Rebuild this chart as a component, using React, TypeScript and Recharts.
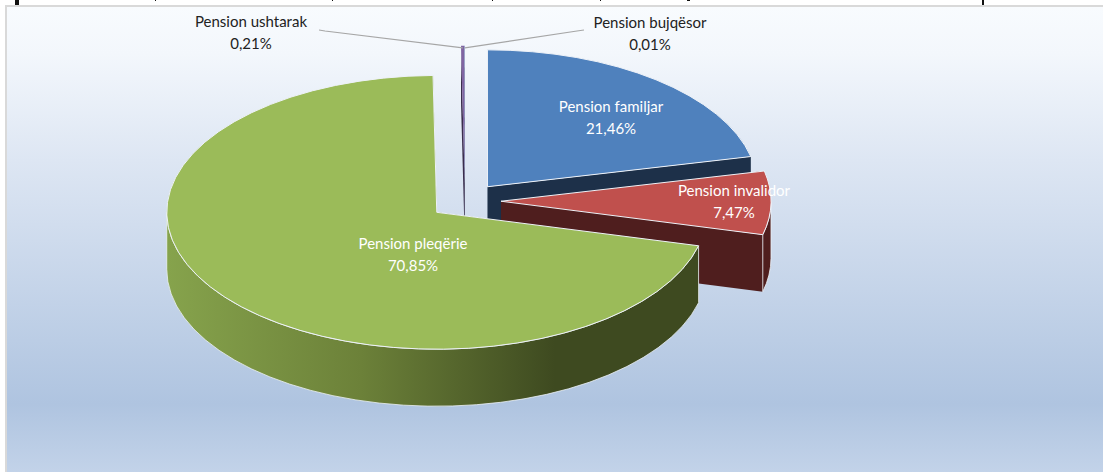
import React from 'react';
import { PieChart, Pie } from 'recharts';

// Drawn back to front, so the two tiny slices come first and the green one last
const categories = ['Pension ushtarak', 'Pension bujqësor', 'Pension familjar', 'Pension invalidor', 'Pension pleqërie'];
const shares = [0.21, 0.01, 21.46, 7.47, 70.85];
const topColors = ['#8064a2', '#4bacc6', '#4f81bd', '#c0504d', '#9bbb59'];
const wallColors = ['#3a2d4c', '#225260', '#1d3049', '#4f1e1e', 'url(#greenWall)'];
const labelColors = ['#222222', '#222222', '#ffffff', '#ffffff', '#ffffff'];

const data = categories.map((name, i) => ({ name, value: shares[i] }));

const WIDTH = 1103;
const HEIGHT = 472;
const CENTER_X = 465;
const CENTER_Y = 201;
const RADIUS = 270;
const SQUASH = 0.507; // tilt of the pie
const DEPTH = 57;
const EXPLODE = 36;
const START_ANGLE = 90 + (shares[0] + shares[1]) * 3.6;

// label centres, layout only
const labelCentres: Record<string, [number, number]> = {
  'Pension ushtarak': [251, 32],
  'Pension bujqësor': [650, 33],
  'Pension familjar': [611, 117],
  'Pension invalidor': [734, 201],
  'Pension pleqërie': [413, 254],
};
const leaderEnds: Record<string, [number, number][]> = {
  'Pension ushtarak': [[319, 30], [325, 31]],
  'Pension bujqësor': [[584, 30], [577, 31]],
};

const rad = (deg: number) => (deg * Math.PI) / 180;

const origin = (p: any) => ({
  x: p.cx + EXPLODE * Math.cos(rad(p.midAngle)),
  y: p.cy - EXPLODE * Math.sin(rad(p.midAngle)) * SQUASH,
});

const rimPoint = (o: { x: number; y: number }, r: number, deg: number, dy = 0) => ({
  x: o.x + r * Math.cos(rad(deg)),
  y: o.y - r * Math.sin(rad(deg)) * SQUASH + dy,
});

const face = (a: { x: number; y: number }, b: { x: number; y: number }) =>
  `M${a.x},${a.y}L${b.x},${b.y}L${b.x},${b.y + DEPTH}L${a.x},${a.y + DEPTH}Z`;

// one slice: side walls first, then the tilted top
const ExplodedSlice = (props: any) => {
  const { startAngle, endAngle, outerRadius: r, fill, name } = props;
  const o = origin(props);
  const p0 = rimPoint(o, r, startAngle);
  const p1 = rimPoint(o, r, endAngle);
  const ry = r * SQUASH;
  const large = startAngle - endAngle > 180 ? 1 : 0;
  const top = `M${o.x},${o.y}L${p0.x},${p0.y}A${r},${ry} 0 ${large} 1 ${p1.x},${p1.y}Z`;
  const wall = wallColors[categories.indexOf(name)];
  const solidWall = wall.startsWith('url') ? '#3e4a20' : wall;

  // the rim only shows on the front half of the ellipse
  const from = Math.min(startAngle, 0);
  const to = Math.max(endAngle, -180);
  let rim = '';
  if (from > to) {
    const a = rimPoint(o, r, from);
    const b = rimPoint(o, r, to);
    rim = `M${a.x},${a.y}A${r},${ry} 0 0 1 ${b.x},${b.y}L${b.x},${b.y + DEPTH}A${r},${ry} 0 0 0 ${a.x},${a.y + DEPTH}Z`;
  }
  const thin = startAngle - endAngle < 2;

  return (
    <g>
      <path d={face(o, p0)} fill={solidWall} />
      <path d={face(o, p1)} fill={solidWall} />
      {rim && <path d={rim} fill={wall} stroke="#eef2f8" strokeWidth={0.8} />}
      <path d={top} fill={fill ?? topColors[categories.indexOf(name)]} stroke={thin ? 'none' : '#eef2f8'} strokeWidth={thin ? 0 : 1} strokeLinejoin="round" />
    </g>
  );
};

const sliceLabel = (props: any) => {
  const { name, value, outerRadius: r, midAngle } = props;
  const [x, y] = labelCentres[name];
  const color = labelColors[categories.indexOf(name)];
  const ends = leaderEnds[name];
  const o = origin(props);
  const tip = rimPoint(o, r, midAngle);
  return (
    <g key={name}>
      {ends && (
        <polyline
          points={`${ends[0][0]},${ends[0][1]} ${ends[1][0]},${ends[1][1]} ${tip.x},${tip.y + 2}`}
          fill="none"
          stroke="#a6a6a6"
          strokeWidth={1.2}
        />
      )}
      <text x={x} y={y - 11} textAnchor="middle" dominantBaseline="central" fill={color} fontSize={15} fontFamily="Lato, sans-serif">
        {name}
      </text>
      <text x={x} y={y + 11} textAnchor="middle" dominantBaseline="central" fill={color} fontSize={15} fontFamily="Lato, sans-serif">
        {`${value.toFixed(2).replace('.', ',')}%`}
      </text>
    </g>
  );
};

// bits of the clipped page above the chart
const clippedMarks = [
  { left: 15, width: 4, height: 5 },
  { left: 155, width: 1, height: 1 },
  { left: 332, width: 1, height: 1 },
  { left: 492, width: 1, height: 1 },
  { left: 600, width: 1, height: 1 },
  { left: 687, width: 3, height: 1 },
  { left: 982, width: 2, height: 5 },
];

export default function App() {
  const pieData = data.map((d, i) => ({ ...d, fill: topColors[i] }));
  return (
    <div style={{ position: 'fixed', left: 0, top: 0, width: WIDTH, height: HEIGHT, background: '#ffffff', overflow: 'hidden' }}>
      {clippedMarks.map((m) => (
        <div key={m.left} style={{ position: 'absolute', top: 0, left: m.left, width: m.width, height: m.height, background: '#111111' }} />
      ))}
      <div
        style={{
          position: 'absolute',
          left: 5,
          top: 5,
          width: WIDTH,
          height: HEIGHT,
          boxSizing: 'border-box',
          borderLeft: '2px solid #d9d9d9',
          borderTop: '2px solid #d9d9d9',
          background: 'linear-gradient(180deg, #f8fbfe 0%, #f3f7fc 10%, #dde6f3 33%, #afc4e0 85%, #c3d3e9 100%)',
          backgroundSize: '100% 467px',
          backgroundRepeat: 'no-repeat',
        }}
      />
      <div style={{ position: 'absolute', left: 0, top: 0 }}>
        <PieChart width={WIDTH} height={HEIGHT} margin={{ top: 0, right: 0, bottom: 0, left: 0 }}>
          <defs>
            <linearGradient id="greenWall" gradientUnits="userSpaceOnUse" x1={167} x2={555} y1={0} y2={0}>
              <stop offset="0%" stopColor="#86a34c" />
              <stop offset="50%" stopColor="#6c8139" />
              <stop offset="100%" stopColor="#3e4a20" />
            </linearGradient>
          </defs>
          <Pie
            data={pieData}
            dataKey="value"
            nameKey="name"
            cx={CENTER_X}
            cy={CENTER_Y}
            innerRadius={0}
            outerRadius={RADIUS}
            startAngle={START_ANGLE}
            endAngle={START_ANGLE - 360}
            stroke="none"
            shape={ExplodedSlice}
            label={sliceLabel}
            labelLine={false}
            isAnimationActive={false}
          />
        </PieChart>
      </div>
    </div>
  );
}
